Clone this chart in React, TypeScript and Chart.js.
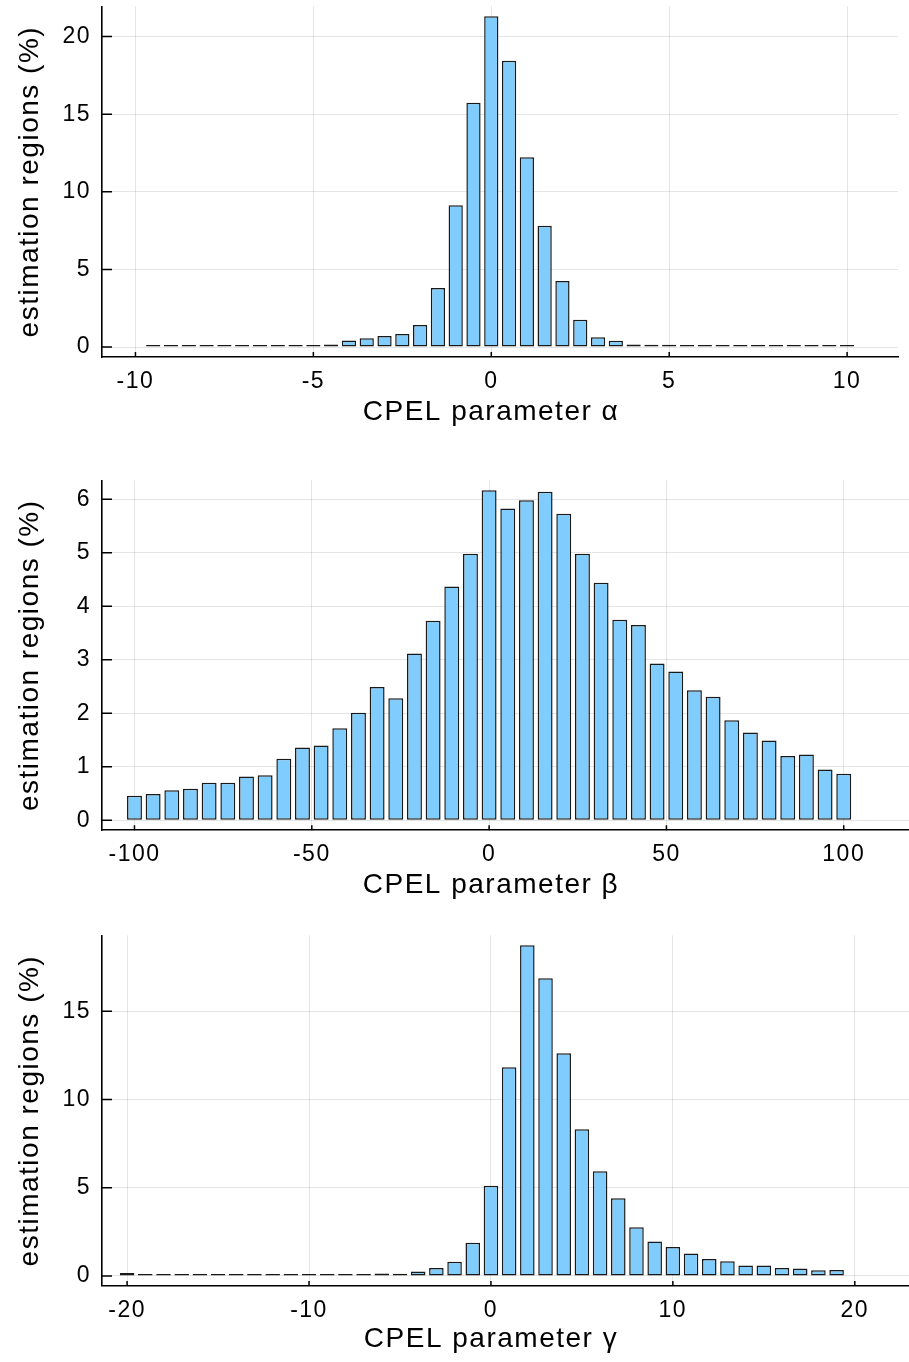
import React, { useEffect, useRef } from 'react';
import { Chart, registerables } from 'chart.js';

Chart.register(...registerables);

const FONT = "'Liberation Sans', Arial, Helvetica, sans-serif";

// ---------------- data ----------------
const alphaCenters = [-9.5, -9, -8.5, -8, -7.5, -7, -6.5, -6, -5.5, -5, -4.5, -4, -3.5, -3, -2.5, -2, -1.5, -1, -0.5, 0, 0.5, 1, 1.5, 2, 2.5, 3, 3.5, 4, 4.5, 5, 5.5, 6, 6.5, 7, 7.5, 8, 8.5, 9, 9.5, 10];
const alphaPercent = [0.02, 0.02, 0.02, 0.02, 0.03, 0.03, 0.02, 0.03, 0.03, 0.09, 0.17, 0.43, 0.56, 0.71, 0.84, 1.42, 3.8, 9.13, 15.74, 21.31, 18.45, 12.22, 7.82, 4.25, 1.76, 0.64, 0.41, 0.17, 0.15, 0.15, 0.09, 0.05, 0.03, 0.03, 0.03, 0.03, 0.02, 0.02, 0.02, 0.02];
const alphaXTicks = [-10, -5, 0, 5, 10];
const alphaYTicks = [0, 5, 10, 15, 20];

const betaCenters = [-100, -94.74, -89.47, -84.21, -78.95, -73.68, -68.42, -63.16, -57.89, -52.63, -47.37, -42.11, -36.84, -31.58, -26.32, -21.05, -15.79, -10.53, -5.26, 0, 5.26, 10.53, 15.79, 21.05, 26.32, 31.58, 36.84, 42.11, 47.37, 52.63, 57.89, 63.16, 68.42, 73.68, 78.95, 84.21, 89.47, 94.74, 100];
const betaPercent = [0.46, 0.49, 0.56, 0.59, 0.7, 0.7, 0.82, 0.84, 1.15, 1.36, 1.4, 1.72, 2.01, 2.49, 2.28, 3.12, 3.73, 4.37, 4.98, 6.17, 5.83, 5.98, 6.14, 5.73, 4.98, 4.44, 3.75, 3.65, 2.93, 2.78, 2.43, 2.31, 1.87, 1.64, 1.49, 1.2, 1.23, 0.95, 0.87];
const betaXTicks = [-100, -50, 0, 50, 100];
const betaYTicks = [0, 1, 2, 3, 4, 5, 6];

const gammaCenters = [-20, -19, -18, -17, -16, -15, -14, -13, -12, -11, -10, -9, -8, -7, -6, -5, -4, -3, -2, -1, 0, 1, 2, 3, 4, 5, 6, 7, 8, 9, 10, 11, 12, 13, 14, 15, 16, 17, 18, 19];
const gammaPercent = [0.17, 0.04, 0.03, 0.03, 0.04, 0.04, 0.04, 0.05, 0.08, 0.05, 0.08, 0.05, 0.05, 0.1, 0.14, 0.12, 0.26, 0.45, 0.81, 1.89, 5.12, 11.83, 18.75, 16.87, 12.62, 8.31, 5.93, 4.4, 2.76, 1.95, 1.64, 1.27, 0.96, 0.83, 0.6, 0.6, 0.45, 0.43, 0.32, 0.34];
const gammaXTicks = [-20, -10, 0, 10, 20];
const gammaYTicks = [0, 5, 10, 15];

const Y_TITLE = 'estimation regions (%)';
const X_TITLES = ['CPEL parameter α', 'CPEL parameter β', 'CPEL parameter γ'];

// ---------------- styles / layout ----------------
const FILL = 'rgb(128, 204, 252)';
const EDGE = 'rgba(0, 0, 0, 0.9)';
const GRID = 'rgba(0, 0, 0, 0.1)';
const TICK_SIZE = 23;
const TITLE_SIZE = 28;
const SPACING = '1.5px';

interface PanelCfg {
  xs: number[];
  ys: number[];
  xTicks: number[];
  yTicks: number[];
  xTitle: string;
  xMin: number; xMax: number; yMin: number; yMax: number;
  top: number; height: number; padTop: number; padRight: number; xAxisH: number;
  titleY: number;
}

const panels: PanelCfg[] = [
  { xs: alphaCenters, ys: alphaPercent, xTicks: alphaXTicks, yTicks: alphaYTicks, xTitle: X_TITLES[0],
    xMin: -10.94, xMax: 11.43, yMin: -0.64, yMax: 21.95,
    top: 0, height: 450, padTop: 6.3, padRight: 11, xAxisH: 93, titleY: 412 },
  { xs: betaCenters, ys: betaPercent, xTicks: betaXTicks, yTicks: betaYTicks, xTitle: X_TITLES[1],
    xMin: -109.16, xMax: 118.4, yMin: -0.185, yMax: 6.355,
    top: 450, height: 455, padTop: 30.3, padRight: 0, xAxisH: 74.8, titleY: 435 },
  { xs: gammaCenters, ys: gammaPercent, xTicks: gammaXTicks, yTicks: gammaYTicks, xTitle: X_TITLES[2],
    xMin: -21.38, xMax: 22.98, yMin: -0.5625, yMax: 19.31,
    top: 905, height: 457, padTop: 30.3, padRight: 0, xAxisH: 76.1, titleY: 434 },
];

const spacingPlugin = {
  id: 'spacing',
  beforeLayout(chart: any) { chart.ctx.letterSpacing = SPACING; },
  beforeDraw(chart: any) { chart.ctx.letterSpacing = SPACING; },
};

const innerTicksPlugin = {
  id: 'innerTicks',
  afterDatasetsDraw(chart: any) {
    const { ctx, chartArea, scales } = chart;
    ctx.save();
    ctx.strokeStyle = '#000';
    ctx.lineWidth = 1.5;
    ctx.beginPath();
    for (const t of scales.y.ticks) {
      const py = scales.y.getPixelForValue(t.value);
      ctx.moveTo(chartArea.left, py);
      ctx.lineTo(chartArea.left + 10, py);
    }
    for (const t of scales.x.ticks) {
      const px = scales.x.getPixelForValue(t.value);
      ctx.moveTo(px, chartArea.bottom);
      ctx.lineTo(px, chartArea.bottom - 5);
    }
    ctx.stroke();
    ctx.restore();
  },
};

const xTitlePlugin = {
  id: 'xTitle',
  afterDraw(chart: any, _args: any, opts: any) {
    const { ctx } = chart;
    ctx.save();
    ctx.letterSpacing = SPACING;
    ctx.font = `${opts.size}px ${FONT}`;
    ctx.fillStyle = '#000';
    ctx.textAlign = 'center';
    ctx.textBaseline = 'middle';
    ctx.fillText(opts.text, opts.cx, opts.cy);
    ctx.restore();
  },
};

function Panel({ cfg }: { cfg: PanelCfg }) {
  const ref = useRef<HTMLCanvasElement>(null);
  useEffect(() => {
    if (!ref.current) return;
    const chart = new Chart(ref.current, {
      type: 'bar',
      data: {
        datasets: [{
          data: cfg.xs.map((x, i) => ({ x, y: cfg.ys[i] })),
          backgroundColor: FILL,
          borderColor: EDGE,
          borderWidth: 1.5,
          borderSkipped: false,
          minBarLength: 2,
          categoryPercentage: 0.8,
          barPercentage: 1,
        } as any],
      },
      options: {
        responsive: false,
        animation: false,
        devicePixelRatio: 1,
        layout: { padding: { left: 0, right: cfg.padRight, top: cfg.padTop, bottom: 0 } },
        plugins: {
          legend: { display: false },
          tooltip: { enabled: false },
          xTitle: { text: cfg.xTitle, size: TITLE_SIZE, cx: 491, cy: cfg.titleY },
        } as any,
        scales: {
          x: {
            type: 'linear',
            min: cfg.xMin,
            max: cfg.xMax,
            offset: false,
            grid: { color: GRID, lineWidth: 1, drawTicks: false, offset: false },
            border: { display: true, color: '#000', width: 1.6 },
            ticks: {
              color: '#000', font: { family: FONT, size: TICK_SIZE }, padding: 11,
              maxRotation: 0, autoSkip: false, callback: (v: any) => String(v),
            },
            afterBuildTicks: (s: any) => { s.ticks = cfg.xTicks.map((v) => ({ value: v })); },
            afterFit: (s: any) => { s.height = cfg.xAxisH; s.paddingLeft = 0; s.paddingRight = 0; },
          },
          y: {
            type: 'linear',
            min: cfg.yMin,
            max: cfg.yMax,
            grid: { color: GRID, lineWidth: 1, drawTicks: false },
            border: { display: true, color: '#000', width: 1.6 },
            ticks: {
              color: '#000', font: { family: FONT, size: TICK_SIZE }, padding: 11,
              autoSkip: false, callback: (v: any) => String(v),
            },
            title: {
              display: true, text: Y_TITLE, color: '#000',
              font: { family: FONT, size: TITLE_SIZE }, padding: { top: 13, bottom: 0 },
            },
            afterBuildTicks: (s: any) => { s.ticks = cfg.yTicks.map((v) => ({ value: v })); },
            afterFit: (s: any) => { s.width = 102; s.paddingTop = 0; s.paddingBottom = 0; },
          },
        } as any,
      },
      plugins: [spacingPlugin, innerTicksPlugin, xTitlePlugin],
    });
    return () => chart.destroy();
  }, [cfg]);
  return (
    <div style={{ position: 'absolute', left: 0, top: cfg.top, width: 909, height: cfg.height }}>
      <canvas ref={ref} width={909} height={cfg.height} style={{ display: 'block', width: 909, height: cfg.height }} />
    </div>
  );
}

export default function App() {
  return (
    <div style={{ position: 'absolute', left: 0, top: 0, width: 909, height: 1362, background: '#fff' }}>
      {panels.map((p, i) => <Panel key={i} cfg={p} />)}
    </div>
  );
}
